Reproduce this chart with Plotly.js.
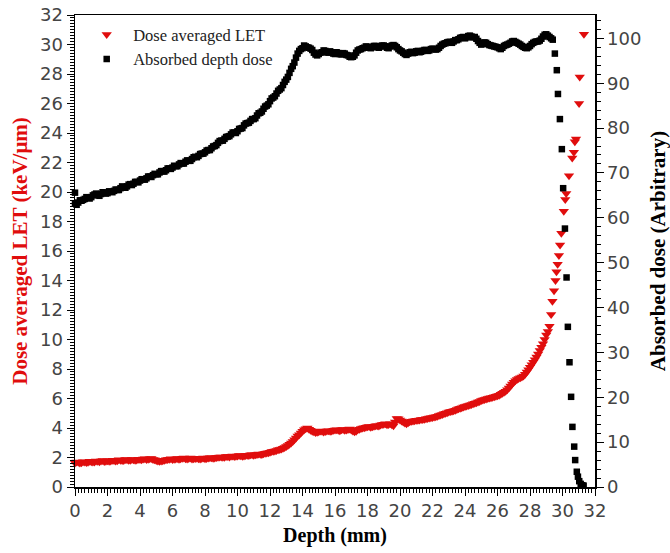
<!DOCTYPE html>
<html><head><meta charset="utf-8">
<script src="https://cdn.plot.ly/plotly-3.0.1.min.js"></script>
<style>body{margin:0;background:#fff}#c{width:670px;height:553px}</style>
</head><body><div id="c"></div>
<script>
// Absorbed depth dose (right axis, arbitrary units)
const doseDepth = [0.0,0.0,0.2,0.4,0.6,0.8,1.0,1.2,1.4,1.6,1.8,2.0,2.2,2.4,2.6,2.8,3.0,3.2,3.4,3.6,3.8,4.0,4.2,4.4,4.6,4.8,5.0,5.2,5.4,5.6,5.8,6.0,6.2,6.4,6.6,6.8,7.0,7.2,7.4,7.6,7.8,8.0,8.2,8.4,8.6,8.8,9.0,9.2,9.4,9.6,9.8,10.0,10.2,10.4,10.6,10.8,11.0,11.2,11.4,11.6,11.8,12.0,12.2,12.4,12.6,12.8,13.0,13.2,13.4,13.6,13.8,14.0,14.2,14.4,14.6,14.8,15.0,15.2,15.4,15.6,15.8,16.0,16.2,16.4,16.6,16.8,17.0,17.2,17.4,17.6,17.8,18.0,18.2,18.4,18.6,18.8,19.0,19.2,19.4,19.6,19.8,20.0,20.2,20.4,20.6,20.8,21.0,21.2,21.4,21.6,21.8,22.0,22.2,22.4,22.6,22.8,23.0,23.2,23.4,23.6,23.8,24.0,24.2,24.4,24.6,24.8,25.0,25.2,25.4,25.6,25.8,26.0,26.2,26.4,26.6,26.8,27.0,27.2,27.4,27.6,27.8,28.0,28.2,28.4,28.6,28.8,29.0,29.2,29.4,
  0.1,0.3,0.5,0.7,0.9,1.1,1.3,1.5,1.7,1.9,2.1,2.3,2.5,2.7,2.9,3.1,3.3,3.5,3.7,3.9,4.1,4.3,4.5,4.7,4.9,5.1,5.3,5.5,5.7,5.9,6.1,6.3,6.5,6.7,6.9,7.1,7.3,7.5,7.7,7.9,8.1,8.3,8.5,8.7,8.9,9.1,9.3,9.5,9.7,9.9,10.1,10.3,10.5,10.7,10.9,11.1,11.3,11.5,11.7,11.9,12.1,12.3,12.5,12.7,12.9,13.1,13.3,13.5,13.7,13.9,14.1,14.3,14.5,14.7,14.9,15.1,15.3,15.5,15.7,15.9,16.1,16.3,16.5,16.7,16.9,17.1,17.3,17.5,17.7,17.9,18.1,18.3,18.5,18.7,18.9,19.1,19.3,19.5,19.7,19.9,20.1,20.3,20.5,20.7,20.9,21.1,21.3,21.5,21.7,21.9,22.1,22.3,22.5,22.7,22.9,23.1,23.3,23.5,23.7,23.9,24.1,24.3,24.5,24.7,24.9,25.1,25.3,25.5,25.7,25.9,26.1,26.3,26.5,26.7,26.9,27.1,27.3,27.5,27.7,27.9,28.1,28.3,28.5,28.7,28.9,29.1,29.3,
  29.53,29.65,29.72,29.84,29.96,30.04,30.15,30.25,30.33,30.43,30.53,30.61,30.72,30.78,30.88,30.95,31.03,31.12,31.22,31.30];
const doseValue = [65.6,63.2,63.4,63.8,64.2,64.5,64.6,65.2,65.1,65.3,65.6,65.5,65.8,66.0,66.2,66.6,66.8,67.0,67.5,67.6,68.0,68.3,68.6,68.8,69.2,69.5,69.7,70.1,70.4,70.6,71.0,71.2,71.5,71.9,72.1,72.5,72.7,73.1,73.6,73.8,74.3,74.6,75.1,75.5,76.0,76.7,77.2,77.6,78.1,78.6,79.0,79.3,79.9,80.6,81.1,81.6,82.0,82.8,83.4,84.3,85.0,86.0,86.8,87.7,88.6,89.6,90.8,92.3,93.8,95.7,97.2,97.8,98.2,97.9,97.4,96.4,96.5,96.9,97.2,96.8,96.9,96.5,96.7,96.4,96.6,96.2,95.8,96.2,97.3,97.6,97.9,98.1,97.8,98.3,98.0,98.2,98.4,97.9,98.2,98.5,98.0,97.3,96.8,96.3,96.9,96.7,97.1,96.9,97.2,97.4,97.3,97.7,97.5,97.9,98.6,98.9,99.2,99.0,99.6,99.8,100.2,100.0,100.5,100.4,100.3,99.4,98.6,99.1,98.7,98.4,98.2,98.0,97.6,98.3,98.6,99.0,99.4,99.0,98.6,98.1,97.8,98.3,99.0,99.3,99.5,100.4,100.9,100.3,99.7,
  62.9,63.9,64.0,64.6,64.3,65.0,65.4,64.9,65.7,65.4,65.9,65.7,66.3,66.2,67.0,66.7,67.4,67.3,68.0,67.9,68.6,68.5,69.2,69.1,69.8,69.7,70.4,70.3,71.0,70.9,71.6,71.5,72.2,72.1,72.8,72.7,73.5,73.5,74.2,74.3,75.0,75.1,75.9,76.2,77.1,77.2,78.0,78.2,79.0,78.9,79.8,80.0,81.0,81.2,82.0,82.2,83.3,83.7,84.8,85.3,86.6,87.1,88.3,88.9,90.3,91.4,93.2,94.6,96.6,97.6,98.4,98.0,97.7,96.8,96.2,96.8,97.3,96.9,97.1,96.6,96.9,96.5,96.7,96.3,95.9,95.9,96.8,97.5,97.8,98.2,97.9,98.1,98.3,97.9,98.4,98.2,97.8,98.4,98.3,97.6,97.1,96.5,96.6,97.0,96.8,97.2,97.0,97.4,97.2,97.6,97.6,97.6,98.3,98.8,99.1,99.2,99.3,99.6,100.1,100.3,100.2,100.6,100.2,99.9,99.0,98.8,99.0,98.5,98.3,98.1,97.8,97.9,98.5,98.8,99.3,99.2,98.8,98.3,97.9,98.0,98.7,99.2,99.3,99.9,100.8,100.6,100.0,
  96.6,92.9,87.6,82.0,75.3,66.6,57.6,46.7,35.7,27.8,20.1,13.4,9.0,6.0,3.4,2.3,1.3,0.7,0.4,0.3];

// Dose averaged LET (left axis, keV/um)
const letDepth = [0.0,0.2,0.4,0.6,0.8,1.0,1.2,1.4,1.6,1.8,2.0,2.2,2.4,2.6,2.8,3.0,3.2,3.4,3.6,3.8,4.0,4.2,4.4,4.6,4.8,5.0,5.2,5.4,5.6,5.8,6.0,6.2,6.4,6.6,6.8,7.0,7.2,7.4,7.6,7.8,8.0,8.2,8.4,8.6,8.8,9.0,9.2,9.4,9.6,9.8,10.0,10.2,10.4,10.6,10.8,11.0,11.2,11.4,11.6,11.8,12.0,12.2,12.4,12.6,12.8,13.0,13.2,13.4,13.6,13.8,14.0,14.2,14.4,14.6,14.8,15.0,15.2,15.4,15.6,15.8,16.0,16.2,16.4,16.6,16.8,17.0,17.2,17.4,17.6,17.8,18.0,18.2,18.4,18.6,18.8,19.0,19.2,19.4,19.6,19.8,20.0,20.2,20.4,20.6,20.8,21.0,21.2,21.4,21.6,21.8,22.0,22.2,22.4,22.6,22.8,23.0,23.2,23.4,23.6,23.8,24.0,24.2,24.4,24.6,24.8,25.0,25.2,25.4,25.6,25.8,26.0,26.2,26.4,26.6,26.8,27.0,27.2,27.4,27.6,27.8,28.0,28.2,28.4,28.6,28.8,29.0,
  0.1,0.3,0.5,0.7,0.9,1.1,1.3,1.5,1.7,1.9,2.1,2.3,2.5,2.7,2.9,3.1,3.3,3.5,3.7,3.9,4.1,4.3,4.5,4.7,4.9,5.1,5.3,5.5,5.7,5.9,6.1,6.3,6.5,6.7,6.9,7.1,7.3,7.5,7.7,7.9,8.1,8.3,8.5,8.7,8.9,9.1,9.3,9.5,9.7,9.9,10.1,10.3,10.5,10.7,10.9,11.1,11.3,11.5,11.7,11.9,12.1,12.3,12.5,12.7,12.9,13.1,13.3,13.5,13.7,13.9,14.1,14.3,14.5,14.7,14.9,15.1,15.3,15.5,15.7,15.9,16.1,16.3,16.5,16.7,16.9,17.1,17.3,17.5,17.7,17.9,18.1,18.3,18.5,18.7,18.9,19.1,19.3,19.5,19.7,19.9,20.1,20.3,20.5,20.7,20.9,21.1,21.3,21.5,21.7,21.9,22.1,22.3,22.5,22.7,22.9,23.1,23.3,23.5,23.7,23.9,24.1,24.3,24.5,24.7,24.9,25.1,25.3,25.5,25.7,25.9,26.1,26.3,26.5,26.7,26.9,27.1,27.3,27.5,27.7,27.9,28.1,28.3,28.5,28.7,28.9,29.1,
  29.2,29.3,29.38,29.48,29.57,29.63,29.7,29.78,29.85,29.93,30.08,30.17,30.23,30.4,30.6,30.7,30.76,30.83,31.02,31.06,31.32];
const letValue = [1.62,1.68,1.64,1.70,1.67,1.72,1.70,1.74,1.76,1.73,1.78,1.76,1.80,1.78,1.82,1.80,1.84,1.81,1.85,1.83,1.86,1.89,1.86,1.91,1.87,1.80,1.74,1.78,1.84,1.88,1.86,1.90,1.88,1.95,1.92,1.94,1.90,1.93,1.91,1.94,1.92,1.96,1.98,1.96,2.01,2.04,2.02,2.07,2.09,2.06,2.10,2.12,2.10,2.15,2.18,2.16,2.20,2.22,2.25,2.30,2.36,2.42,2.48,2.55,2.62,2.75,2.90,3.08,3.32,3.55,3.78,3.95,3.92,3.78,3.70,3.74,3.78,3.76,3.82,3.80,3.86,3.84,3.88,3.85,3.90,3.86,3.74,3.88,3.96,4.02,4.08,4.05,4.12,4.16,4.20,4.25,4.22,4.28,4.15,4.65,4.55,4.40,4.28,4.42,4.48,4.52,4.55,4.58,4.62,4.68,4.72,4.76,4.85,4.92,5.00,5.08,5.14,5.20,5.30,5.38,5.46,5.52,5.60,5.68,5.76,5.86,5.94,6.00,6.05,6.12,6.18,6.28,6.42,6.60,6.85,7.10,7.28,7.40,7.52,7.80,8.12,8.45,8.82,9.25,9.72,10.30,
  1.70,1.62,1.72,1.66,1.74,1.69,1.76,1.71,1.79,1.75,1.74,1.81,1.77,1.84,1.79,1.86,1.82,1.87,1.81,1.88,1.84,1.91,1.88,1.93,1.84,1.76,1.77,1.82,1.86,1.91,1.88,1.93,1.92,1.97,1.90,1.96,1.92,1.95,1.89,1.96,1.94,1.99,1.95,2.00,2.03,2.01,2.06,2.04,2.10,2.08,2.13,2.09,2.14,2.13,2.19,2.18,2.23,2.21,2.28,2.32,2.40,2.44,2.52,2.58,2.68,2.82,2.98,3.20,3.45,3.66,3.88,4.00,3.84,3.74,3.72,3.79,3.73,3.80,3.78,3.84,3.88,3.82,3.90,3.87,3.93,3.80,3.78,3.92,4.00,4.05,4.10,4.08,4.15,4.13,4.24,4.28,4.24,4.22,4.40,4.62,4.48,4.34,4.36,4.46,4.50,4.53,4.57,4.60,4.65,4.70,4.74,4.80,4.88,4.96,5.04,5.12,5.17,5.26,5.34,5.42,5.50,5.56,5.64,5.72,5.80,5.90,5.97,6.03,6.08,6.15,6.22,6.35,6.50,6.72,6.98,7.20,7.35,7.45,7.65,7.95,8.28,8.62,9.02,9.48,10.00,10.55,
  10.9,11.7,12.6,13.3,14.0,14.6,15.1,15.7,16.4,17.2,18.7,19.5,19.9,21.1,22.3,22.7,23.4,23.6,26.0,27.8,30.7];

const xTicks = [0,2,4,6,8,10,12,14,16,18,20,22,24,26,28,30,32];
const letTicks = [0,2,4,6,8,10,12,14,16,18,20,22,24,26,28,30,32];
const doseTicks = [0,10,20,30,40,50,60,70,80,90,100];

const RED = '#e00d0d';
const tickFont = {family: 'DejaVu Sans, sans-serif', size: 18, color: '#444'};
const titleFontBase = {family: 'Liberation Serif, Times New Roman, serif', size: 20, weight: 'bold'};

const traces = [
  {x: letDepth, y: letValue, type: 'scatter', mode: 'markers', name: 'Dose averaged LET',
   marker: {symbol: 'triangle-down', size: 9, color: RED}, yaxis: 'y', cliponaxis: false},
  {x: doseDepth, y: doseValue, type: 'scatter', mode: 'markers', name: 'Absorbed depth dose',
   marker: {symbol: 'square', size: 6.5, color: '#000'}, yaxis: 'y2', cliponaxis: false}
];

const axisCommon = {
  showline: true, linecolor: '#000', linewidth: 1.5, ticks: 'outside', ticklen: 7, tickwidth: 1,
  tickcolor: '#000', showgrid: false, zeroline: false, tickfont: tickFont
};

const layout = {
  width: 670, height: 553,
  margin: {l: 75, r: 75, t: 15, b: 66},
  paper_bgcolor: '#fff', plot_bgcolor: '#fff',
  showlegend: true,
  legend: {x: 0.01, y: 0.995, xanchor: 'left', yanchor: 'top', bgcolor: 'rgba(0,0,0,0)',
           font: {family: 'Liberation Serif, serif', size: 16.5, color: '#222'}, itemwidth: 43},
  xaxis: Object.assign({}, axisCommon, {
    range: [0, 32], tickvals: xTicks, ticktext: xTicks.map(String), mirror: true,
    minor: {dtick: 0.2, ticks: 'outside', ticklen: 4, tickcolor: '#000', tickwidth: 1},
    title: {text: 'Depth (mm)', font: Object.assign({}, titleFontBase, {color: '#000'}), standoff: 8}
  }),
  yaxis: Object.assign({}, axisCommon, {
    range: [0, 32], tickvals: letTicks, ticktext: letTicks.map(String),
    minor: {dtick: 0.2, ticks: 'outside', ticklen: 4, tickcolor: '#000', tickwidth: 1},
    title: {text: 'Dose averaged LET (keV/μm)', font: Object.assign({}, titleFontBase, {color: RED, size: 21}), standoff: 6}
  }),
  yaxis2: Object.assign({}, axisCommon, {
    overlaying: 'y', side: 'right', range: [0, 105.2], tickvals: doseTicks, ticktext: doseTicks.map(String),
    minor: {dtick: 2, ticks: 'outside', ticklen: 4, tickcolor: '#000', tickwidth: 1},
    title: {text: 'Absorbed dose (Arbitrary)', font: Object.assign({}, titleFontBase, {color: '#000', size: 21}), standoff: 10}
  })
};

Plotly.newPlot('c', traces, layout, {displayModeBar: false, staticPlot: true});
</script>
</body></html>
